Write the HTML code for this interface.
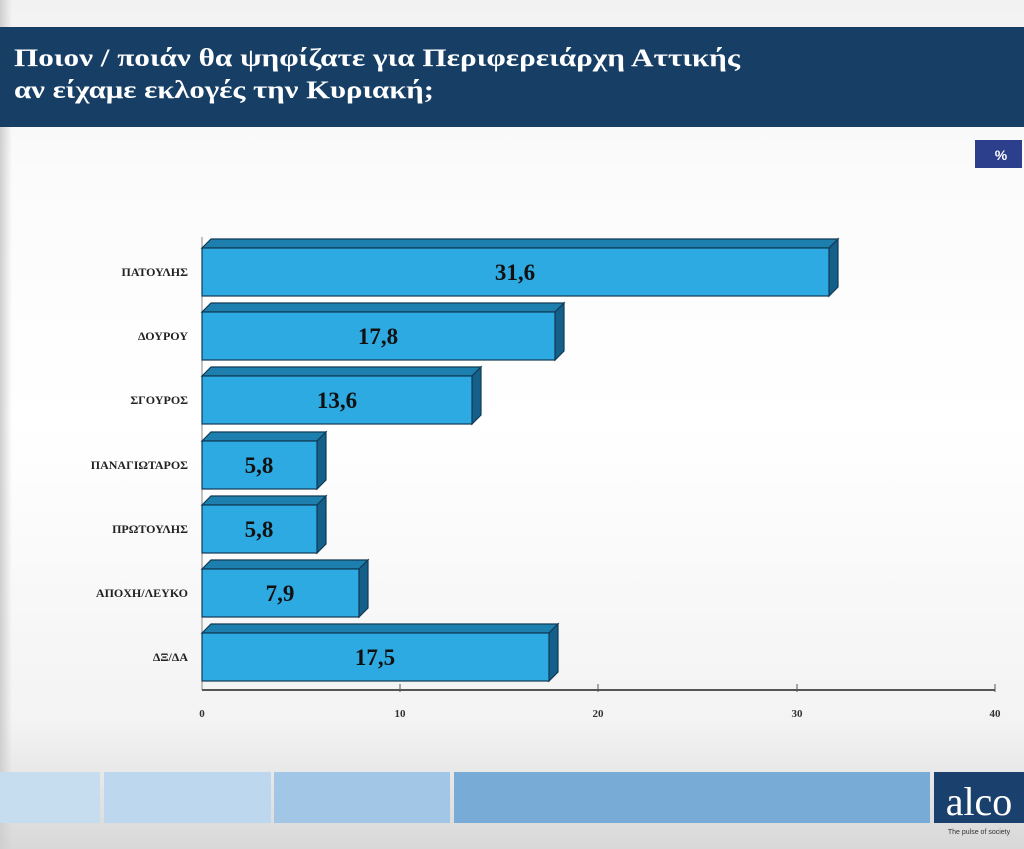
<!DOCTYPE html>
<html><head><meta charset="utf-8"><style>
html,body{margin:0;padding:0;width:1024px;height:849px;overflow:hidden;}
body{background:linear-gradient(180deg,#f2f2f2 0%,#fbfbfb 20%,#ffffff 50%,#f3f3f3 85%,#d8d8d8 100%);font-family:"Liberation Serif",serif;}
</style></head><body>
<svg width="1024" height="849" xmlns="http://www.w3.org/2000/svg" style="position:absolute;left:0;top:0">
<defs><linearGradient id="lg" x1="0" x2="1"><stop offset="0" stop-color="#cfcfcf"/><stop offset="1" stop-color="#cfcfcf" stop-opacity="0"/></linearGradient></defs>
<rect x="0" y="0" width="12" height="849" fill="url(#lg)"/>
<rect x="0" y="27" width="1024" height="100" fill="#173f66"/>
<text x="14" y="66" font-family="Liberation Serif" font-weight="bold" font-size="25" fill="#fff" textLength="726" lengthAdjust="spacingAndGlyphs">Ποιον / ποιάν θα ψηφίζατε για Περιφερειάρχη Αττικής</text>
<text x="14" y="98" font-family="Liberation Serif" font-weight="bold" font-size="25" fill="#fff" textLength="420" lengthAdjust="spacingAndGlyphs">αν είχαμε εκλογές την Κυριακή;</text>
<rect x="975" y="140" width="47" height="28" fill="#2b3f8c"/>
<text x="1001" y="160" font-family="Liberation Sans" font-weight="bold" font-size="14" fill="#fff" text-anchor="middle">%</text>
<line x1="202" y1="237" x2="202" y2="690" stroke="#888" stroke-width="1"/>
<line x1="202" y1="690" x2="995" y2="690" stroke="#555" stroke-width="2"/>
<g font-family="Liberation Serif" font-weight="bold" font-size="11" fill="#333" text-anchor="middle">
<text x="202" y="717">0</text><text x="400" y="717">10</text><text x="598" y="717">20</text><text x="797" y="717">30</text><text x="995" y="717">40</text>
</g>
<line x1="400" y1="684" x2="400" y2="692" stroke="#555"/><line x1="598" y1="684" x2="598" y2="692" stroke="#555"/><line x1="797" y1="684" x2="797" y2="692" stroke="#555"/><line x1="995" y1="684" x2="995" y2="692" stroke="#555"/>

<g stroke="#123a55" stroke-width="1.2">
<!-- bar 1 -->
<polygon points="202,248 211,239 838,239 829,248" fill="#1d7fae"/>
<polygon points="829,248 838,239 838,287 829,296" fill="#14608a"/>
<rect x="202" y="248" width="627" height="48" fill="#2eaae2"/>
<!-- bar 2 -->
<polygon points="202,312 211,303 564,303 555,312" fill="#1d7fae"/>
<polygon points="555,312 564,303 564,351 555,360" fill="#14608a"/>
<rect x="202" y="312" width="353" height="48" fill="#2eaae2"/>
<!-- bar 3 -->
<polygon points="202,376 211,367 481,367 472,376" fill="#1d7fae"/>
<polygon points="472,376 481,367 481,415 472,424" fill="#14608a"/>
<rect x="202" y="376" width="270" height="48" fill="#2eaae2"/>
<!-- bar 4 -->
<polygon points="202,441 211,432 326,432 317,441" fill="#1d7fae"/>
<polygon points="317,441 326,432 326,480 317,489" fill="#14608a"/>
<rect x="202" y="441" width="115" height="48" fill="#2eaae2"/>
<!-- bar 5 -->
<polygon points="202,505 211,496 326,496 317,505" fill="#1d7fae"/>
<polygon points="317,505 326,496 326,544 317,553" fill="#14608a"/>
<rect x="202" y="505" width="115" height="48" fill="#2eaae2"/>
<!-- bar 6 -->
<polygon points="202,569 211,560 368,560 359,569" fill="#1d7fae"/>
<polygon points="359,569 368,560 368,608 359,617" fill="#14608a"/>
<rect x="202" y="569" width="157" height="48" fill="#2eaae2"/>
<!-- bar 7 -->
<polygon points="202,633 211,624 558,624 549,633" fill="#1d7fae"/>
<polygon points="549,633 558,624 558,672 549,681" fill="#14608a"/>
<rect x="202" y="633" width="347" height="48" fill="#2eaae2"/>
</g>

<g font-family="Liberation Serif" font-weight="bold" font-size="23" fill="#111" text-anchor="middle">
<text x="515" y="280">31,6</text>
<text x="378" y="344">17,8</text>
<text x="337" y="408">13,6</text>
<text x="259" y="473">5,8</text>
<text x="259" y="537">5,8</text>
<text x="280" y="601">7,9</text>
<text x="375" y="665">17,5</text>
</g>
<g font-family="Liberation Serif" font-weight="bold" font-size="12" fill="#222" text-anchor="end">
<text x="188" y="276">ΠΑΤΟΥΛΗΣ</text>
<text x="188" y="340">ΔΟΥΡΟΥ</text>
<text x="188" y="404">ΣΓΟΥΡΟΣ</text>
<text x="188" y="469">ΠΑΝΑΓΙΩΤΑΡΟΣ</text>
<text x="188" y="533">ΠΡΩΤΟΥΛΗΣ</text>
<text x="188" y="597">ΑΠΟΧΗ/ΛΕΥΚΟ</text>
<text x="188" y="661">ΔΞ/ΔΑ</text>
</g>

<rect x="0" y="772" width="100" height="51" fill="#c6ddf0"/>
<rect x="104" y="772" width="167" height="51" fill="#bdd7ee"/>
<rect x="274" y="772" width="176" height="51" fill="#a2c6e5"/>
<rect x="454" y="772" width="476" height="51" fill="#78acd6"/>
<rect x="934" y="772" width="90" height="51" fill="#1a416d"/>
<text x="979" y="815" font-family="Liberation Serif" font-size="40" fill="#fff" text-anchor="middle">alco</text>
<text x="979" y="834" font-family="Liberation Sans" font-size="7" fill="#333" text-anchor="middle">The pulse of society</text>
</svg>
</body></html>
